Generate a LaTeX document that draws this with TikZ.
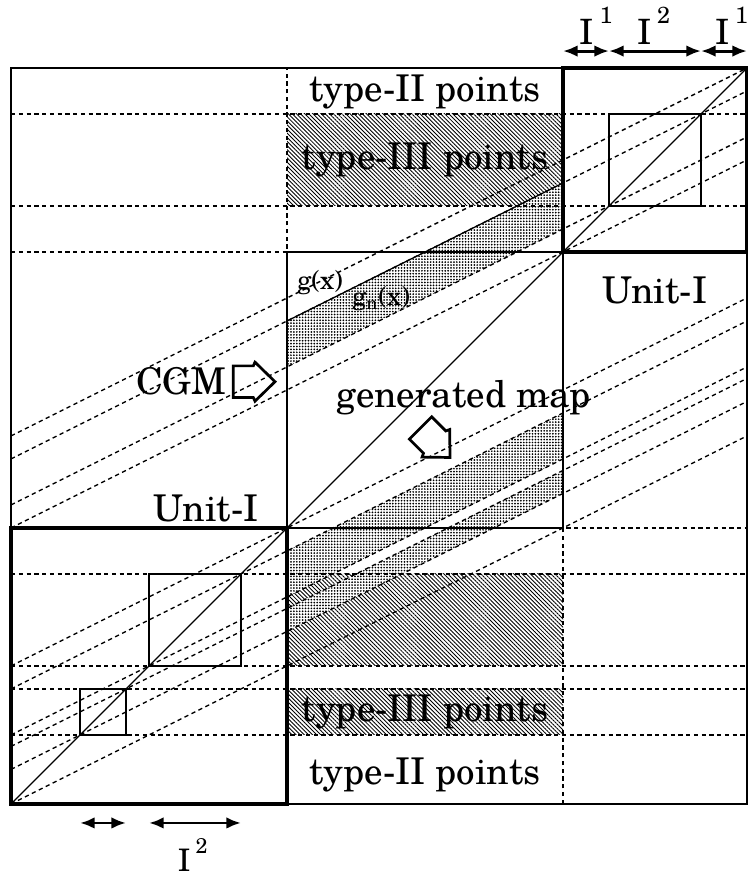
\documentclass[tikz,border=0pt]{standalone}
\usepackage{fontspec}
\setmainfont{texgyreschola}[Extension=.otf,UprightFont=*-regular,BoldFont=*-bold,ItalicFont=*-italic,BoldItalicFont=*-bolditalic]
\usetikzlibrary{arrows.meta,patterns.meta}
\newcommand{\rim}{1.6667}
\newcommand{\ix}[3][11pt]{I\,\raisebox{#1}{\fontsize{#2}{#2}\selectfont #3}}
\tikzset{
  blockarrow/.pic={
    \draw[line width=1.4pt,line join=miter] (0,0) -- (-0.0725,0.0707) -- (-0.0786,0.0573) -- (-0.151,0.0573)
      -- (-0.151,-0.0573) -- (-0.0786,-0.0573) -- (-0.0725,-0.0707) -- cycle;
  }
}

\begin{document}
\begin{tikzpicture}[x=5cm,y=5cm,
    line/.style={line width=0.6pt},
    unitbox/.style={line width=2pt},
    guide/.style={line width=0.7pt,dash pattern=on 2.2pt off 1.8pt},
    hatch/.style={pattern={Lines[angle=-45,distance=1.5pt,line width=0.45pt]}},
    dotband/.style={fill=white,postaction={pattern={Dots[distance=1.5pt,radius=0.5pt]}}},
    txt/.style={font=\fontsize{19}{23}\selectfont,inner sep=0pt},
    fx/.style={font=\fontsize{13.5}{16}\selectfont,inner sep=0pt},
    idx/.style={font=\fontsize{18}{20}\selectfont,inner sep=0pt,anchor=base},
    span/.style={line width=1.5pt,{Latex[length=7.5pt,width=6pt]}-{Latex[length=7.5pt,width=6pt]}}]
\useasboundingbox (-1.040,-1.272) rectangle (1.670,1.913);

% type-III strips
\foreach \lo/\hi in {1.1667/1.5,-0.5/-0.1667,-0.75/-0.5833}
  \path[hatch] (0,\lo) rectangle (1,\hi);
% dotted bands
\foreach \lo/\hi in {0.5833/0.75,-0.25/-0.0833,-0.375/-0.2917}
  \path[dotband] (0,\lo) -- (1,{\lo+0.5}) -- (1,{\hi+0.5}) -- (0,\hi) -- cycle;

% dashed guides
\foreach \y in {1.5,1.1667,-0.1667,-0.5,-0.5833,-0.75}
  \draw[guide] (-1,\y) -- (\rim,\y);
\draw[guide] (-1,1) -- (0,1) -- (0,\rim);
\draw[guide] (1,-1) -- (1,0) -- (\rim,0);
\foreach \c in {0.8333,0.75,0.5833,0.5,0,-0.0833,-0.25,-0.2917,-0.375,-0.5}
  \draw[guide] (-1,{\c-0.5}) -- (\rim,{\c+0.8333});

% frame, cells and squares
\draw[line] (-1,-1) rectangle (\rim,\rim);
\draw[line] (0,0) rectangle (1,1);
\draw[line] (-1,-1) -- (\rim,\rim);
\draw[line] (0,0.75) -- (1,1.25);
\draw[line] (1.1667,1.1667) rectangle (1.5,1.5);
\draw[line] (-0.5,-0.5) rectangle (-0.1667,-0.1667);
\draw[line] (-0.75,-0.75) rectangle (-0.5833,-0.5833);
\draw[unitbox] (-1,-1) rectangle (0,0);
\draw[unitbox] (1,1) rectangle (\rim,\rim);

% labels
\node[txt] (topII) at (0.5,1.58) {type-II points};
\node[txt] (topIII) at (0.5,1.333) {type-III points};
\node[txt] (lowIII) at (0.5,-0.667) {type-III points};
\node[txt] (lowII) at (0.5,-0.895) {type-II points};
\node[txt] (unitR) at (1.333,0.862) {Unit-I};
\node[txt] (unitL) at (-0.293,0.072) {Unit-I};
\node[txt] (cgm) at (-0.383,0.53) {CGM};
\node[txt] (gen) at (0.64,0.471) {generated map};
\node[fx] (g) at (0.12,0.888) {g(x)};
\node[fx] (gn) at (0.341,0.833) {g\textsubscript{n}(x)};
\pic at (-0.0435,0.530) {blockarrow};
\pic[rotate=-45] at (0.5906,0.2554) {blockarrow};

% interval arrows
\coordinate (t0) at (1,1.728);
\coordinate (t1) at (1.1667,1.728);
\coordinate (t2) at (1.5,1.728);
\coordinate (t3) at (\rim,1.728);
\draw[span] (t0) -- (t1);
\draw[span] (t1) -- (t2);
\draw[span] (t2) -- (t3);
\node[idx] (i1a) at (1.12,1.750) {\ix{12}{1}};
\node[idx] (i2a) at (1.328,1.750) {\ix{12}{2}};
\node[idx] (i1b) at (1.611,1.750) {\ix{12}{1}};
\coordinate (b0) at (-0.75,-1.069);
\coordinate (b1) at (-0.5833,-1.069);
\coordinate (b2) at (-0.5,-1.069);
\coordinate (b3) at (-0.1667,-1.069);
\draw[span] (b0) -- (b1);
\draw[span] (b2) -- (b3);
\node[idx,font=\fontsize{16}{18}\selectfont] (i2b) at (-0.342,-1.246) {\ix[9.5pt]{11}{2}};
\end{tikzpicture}
\end{document}
